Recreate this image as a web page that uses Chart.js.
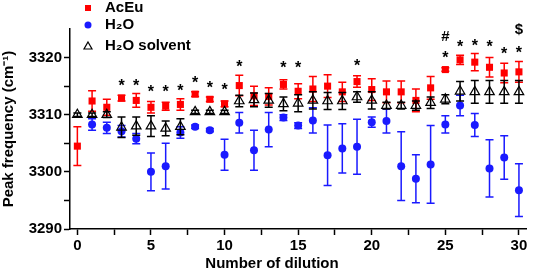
<!DOCTYPE html>
<html>
<head>
<meta charset="utf-8">
<script src="https://cdn.jsdelivr.net/npm/chart.js@4.4.1/dist/chart.umd.min.js"></script>
<style>
    html, body { margin: 0; padding: 0; background: #fff; }
    #wrap { width: 533px; height: 273px; }
</style>
</head>
<body>
<div id="wrap"><canvas id="myChart"></canvas></div>
<script>
const dilution = [0, 1, 2, 3, 4, 5, 6, 7, 8, 9, 10, 11, 12, 13, 14, 15, 16, 17, 18, 19, 20, 21, 22, 23, 24, 25, 26, 27, 28, 29, 30];

const acEu = [3304.5, 3312.4, 3311.3, 3312.9, 3312.5, 3311.3, 3311.5, 3311.8, 3313.6, 3312.7, 3311.9,
    3315.1, 3313.3, 3313.2, 3315.3, 3314.1, 3314.5, 3315.0, 3314.0, 3315.8, 3314.4,
    3314.0, 3314.0, 3312.5, 3314.7, 3317.9, 3319.6, 3319.2, 3318.3, 3317.3, 3317.5];
const acEuErr = [3.4, 1.8, 1.4, 0.5, 1.2, 1.0, 0.7, 1.0, 0.4, 0.4, 0.5,
    1.8, 1.7, 1.5, 0.8, 1.3, 2.2, 2.0, 1.7, 1.0, 1.9,
    1.9, 1.9, 2.0, 2.0, 0.3, 0.8, 1.5, 1.7, 1.7, 1.8];

const h2o = [null, 3308.3, 3307.7, 3307.1, 3305.8, 3300.0, 3301.0, 3306.9, 3307.9, 3307.3, 3303.0,
    3308.6, 3303.8, 3307.4, 3309.5, 3308.1, 3309.0, 3302.9, 3304.1, 3304.4, 3308.7,
    3308.9, 3301.0, 3298.8, 3301.3, 3308.3, 3311.6, 3308.2, 3300.6, 3302.5, 3296.8];
const h2oErr = [null, 1.0, 1.0, 1.0, 0.9, 3.3, 4.0, 1.0, 0.3, 0.3, 2.7,
    1.8, 3.5, 3.0, 0.5, 0.5, 2.2, 5.3, 4.3, 4.8, 0.9,
    2.1, 6.0, 4.2, 6.8, 1.5, 1.8, 2.0, 5.0, 3.8, 4.6];

const solvent = [3310.0, 3310.0, 3310.0, 3307.8, 3308.0, 3308.0, 3307.6, 3307.9, 3310.5, 3310.5, 3310.5,
    3312.4, 3312.6, 3312.5, 3311.9, 3312.0, 3312.5, 3312.4, 3312.4, 3313.1, 3312.5,
    3311.6, 3311.6, 3311.6, 3312.1, 3312.7, 3314.1, 3314.0, 3314.0, 3314.0, 3314.0];
const solventErr = [0.3, 0.3, 0.5, 1.8, 1.6, 1.8, 1.3, 1.4, 0.3, 0.3, 0.3,
    1.0, 1.2, 1.2, 1.2, 1.5, 1.5, 1.5, 1.5, 0.9, 1.5,
    0.6, 0.6, 0.8, 1.0, 0.8, 1.7, 2.0, 2.0, 2.0, 2.0];

// significance marks above the points
const markX = [3, 4, 5, 6, 7, 8, 9, 10, 11, 14, 15, 19, 25, 25, 26, 27, 28, 29, 30, 30];
const markY = [3315.8, 3315.8, 3314.7, 3314.7, 3314.8, 3316.3, 3315.4, 3315.0, 3319.1, 3318.9, 3318.9,
    3319.3, 3320.7, 3323.9, 3322.6, 3322.8, 3322.6, 3321.4, 3321.5, 3325.0];
const markText = ['*', '*', '*', '*', '*', '*', '*', '*', '*', '*', '*', '*', '*', '#', '*', '*', '*', '*', '*', '$'];

const xTicks = [0, 2.5, 5, 7.5, 10, 12.5, 15, 17.5, 20, 22.5, 25, 27.5, 30];
const yTicks = [3290, 3295, 3300, 3305, 3310, 3315, 3320];

const seriesNames = ['AcEu', 'H\u2082O', 'H\u2082O solvent'];
const RED = '#ff0000';
const BLUE = '#1a1aff';
const BLACK = '#000000';
const FONT = '"Liberation Sans", Arial, sans-serif';

const toPoints = vals => dilution.map((d, i) => ({ x: d, y: vals[i] }));

const errorBars = {
    id: 'errorBars',
    beforeDatasetDraw(chart, args) {
        const ds = chart.data.datasets[args.index];
        if (!ds.errors) return;
        const ctx = chart.ctx;
        const xs = chart.scales.x, ys = chart.scales.y;
        ctx.save();
        ctx.strokeStyle = ds.errorColor;
        ctx.lineWidth = 1.5;
        ds.data.forEach((p, i) => {
            const e = ds.errors[i];
            if (p.y === null || e === null) return;
            const px = xs.getPixelForValue(p.x);
            const top = ys.getPixelForValue(p.y + e);
            const bot = ys.getPixelForValue(p.y - e);
            ctx.beginPath();
            ctx.moveTo(px, top); ctx.lineTo(px, bot);
            ctx.moveTo(px - 4, top); ctx.lineTo(px + 4, top);
            ctx.moveTo(px - 4, bot); ctx.lineTo(px + 4, bot);
            ctx.stroke();
        });
        ctx.restore();
    }
};

const marks = {
    id: 'marks',
    afterDatasetsDraw(chart) {
        const ctx = chart.ctx;
        const xs = chart.scales.x, ys = chart.scales.y;
        ctx.save();
        ctx.fillStyle = BLACK;
        ctx.textAlign = 'center';
        ctx.textBaseline = 'alphabetic';
        markText.forEach((t, i) => {
            const size = t === '*' ? 16 : 15;
            ctx.font = 'bold ' + size + 'px ' + FONT;
            const off = t === '*' ? 0.57 * size : 0.36 * size;
            ctx.fillText(t, xs.getPixelForValue(markX[i]), ys.getPixelForValue(markY[i]) + off);
        });
        ctx.restore();
    }
};

const legendAndTitle = {
    id: 'legendAndTitle',
    afterDraw(chart) {
        const ctx = chart.ctx;
        ctx.save();
        // x axis title
        ctx.fillStyle = BLACK;
        ctx.font = 'bold 15px ' + FONT;
        ctx.textAlign = 'center';
        ctx.textBaseline = 'middle';
        ctx.fillText('Number of dilution', 272, 264);

        // legend
        const rows = [8, 25, 46];
        ctx.textAlign = 'left';
        ctx.fillStyle = RED;
        ctx.fillRect(85, rows[0] - 3, 6, 6);
        ctx.fillStyle = BLUE;
        ctx.beginPath(); ctx.arc(88, rows[1], 3.5, 0, Math.PI * 2); ctx.fill();
        ctx.strokeStyle = BLACK; ctx.lineWidth = 1.2;
        ctx.beginPath();
        ctx.moveTo(88, rows[2] - 4); ctx.lineTo(92, rows[2] + 3); ctx.lineTo(84, rows[2] + 3); ctx.closePath();
        ctx.stroke();
        ctx.fillStyle = BLACK;
        seriesNames.forEach((n, i) => ctx.fillText(n, 105, rows[i]));
        ctx.restore();
    }
};

new Chart(document.getElementById('myChart'), {
    type: 'scatter',
    data: {
        datasets: [
            {
                label: seriesNames[0], data: toPoints(acEu), errors: acEuErr, errorColor: RED,
                pointStyle: 'rect', pointRadius: 5, backgroundColor: RED, borderColor: RED, borderWidth: 0,
                order: 3, clip: false
            },
            {
                label: seriesNames[1], data: toPoints(h2o), errors: h2oErr, errorColor: BLUE,
                pointStyle: 'circle', pointRadius: 4, backgroundColor: BLUE, borderColor: BLUE, borderWidth: 0,
                order: 2, clip: false
            },
            {
                label: seriesNames[2], data: toPoints(solvent), errors: solventErr, errorColor: BLACK,
                pointStyle: 'triangle', pointRadius: 5.5, backgroundColor: 'rgba(0,0,0,0)', borderColor: BLACK, borderWidth: 1.2,
                order: 1, clip: false
            }
        ]
    },
    options: {
        responsive: true,
        maintainAspectRatio: false,
        animation: false,
        devicePixelRatio: 1,
        layout: { padding: { left: 0, right: 2, top: 29, bottom: 0 } },
        plugins: {
            legend: { display: false },
            tooltip: { enabled: false }
        },
        scales: {
            x: {
                type: 'linear',
                min: -0.5,
                max: 30.5,
                afterBuildTicks: s => { s.ticks = xTicks.map(v => ({ value: v })); },
                afterFit: s => { s.height = 44; },
                ticks: {
                    callback: v => (v % 5 === 0 ? v : ''),
                    color: BLACK,
                    font: { family: FONT, size: 15, weight: 'bold' },
                    padding: 2,
                    maxRotation: 0,
                    autoSkip: false
                },
                grid: { drawOnChartArea: false, tickLength: 6, tickColor: BLACK, tickWidth: 1.5 },
                border: { color: BLACK, width: 1.5 }
            },
            y: {
                min: 3290,
                max: 3325,
                afterBuildTicks: s => { s.ticks = yTicks.map(v => ({ value: v })); },
                afterFit: s => { s.width = 70; },
                ticks: {
                    callback: v => (v % 10 === 0 ? v : ''),
                    color: BLACK,
                    font: { family: FONT, size: 15, weight: 'bold' },
                    padding: 2,
                    autoSkip: false
                },
                grid: { drawOnChartArea: false, tickLength: 6, tickColor: BLACK, tickWidth: 1.5 },
                border: { color: BLACK, width: 1.5 },
                title: {
                    display: true,
                    text: 'Peak frequency (cm\u207B\u00B9)',
                    color: BLACK,
                    font: { family: FONT, size: 15, weight: 'bold' },
                    padding: { top: 0, bottom: 0 }
                }
            }
        }
    },
    plugins: [errorBars, marks, legendAndTitle]
});
</script>
</body>
</html>
